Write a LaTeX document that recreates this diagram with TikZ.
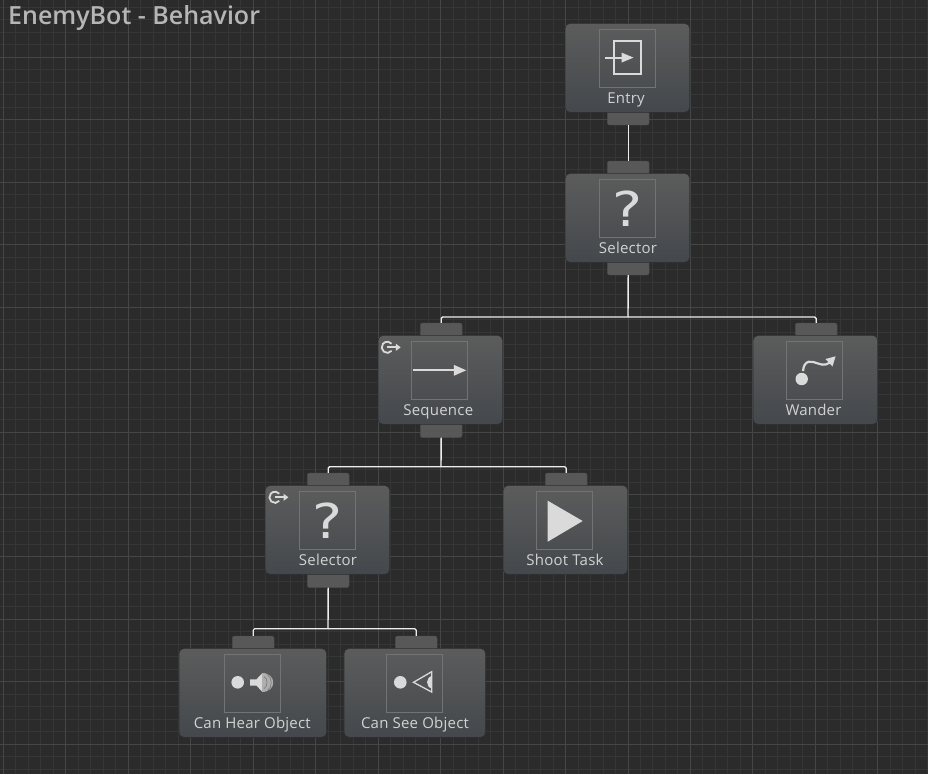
\documentclass[tikz,border=0pt]{standalone}
\usepackage{fontspec}
\setmainfont{Open Sans}[LetterSpace=1.5]
\newfontfamily\titlefont{Open Sans}[UprightFont=* Semibold,BoldFont=* Bold]
\newfontfamily\glyphfont{DejaVu Sans}
\usetikzlibrary{calc}
\definecolor{canvasbg}{HTML}{2B2B2B}
\definecolor{gridminor}{HTML}{363636}
\definecolor{gridmajor}{HTML}{464646}
\definecolor{bodytop}{HTML}{5C5C5C}
\definecolor{bodybot}{HTML}{44484C}
\definecolor{porttone}{HTML}{585858}
\definecolor{inkc}{HTML}{DADADA}
\definecolor{labelc}{HTML}{D2D2D2}
\definecolor{titlec}{HTML}{B6B6B6}
\tikzset{
  x=1pt,y=-1pt,
  bodybox/.style={rectangle,inner sep=0pt,minimum height=89pt,rounded corners=5pt,
    top color=bodytop,bottom color=bodybot,draw=black!35!bodybot,line width=.6pt},
  portbox/.style={rectangle,inner sep=0pt,minimum width=41.7pt,minimum height=14pt,rounded corners=2pt,
    fill=porttone,draw=black!15!porttone,line width=.4pt},
  iconbox/.style={rectangle,inner sep=0pt,minimum width=56.4pt,minimum height=57.4pt,draw=white!14!bodytop,line width=1pt},
  blabel/.style={inner sep=0pt,anchor=base,text=labelc,font=\fontsize{15}{17}\selectfont},
  wire/.style={draw=white!86!gray,line width=1.4pt,rounded corners=1.5pt},
  thinwire/.style={draw=white!86!gray,line width=1.1pt,rounded corners=1.5pt},
  ink/.style={draw=inkc,line width=2.2pt},
}
% name, body centre x, body top y, body width, label, icon-box centre x, label centre x
\newcommand{\bnode}[7]{%
  \node[bodybox,minimum width=#4pt] (#1) at (#2,#3+44.5) {};
  \node[iconbox] (#1icon) at (#6,#3+34.9) {};
  \node[blabel] (#1label) at (#7,#3+79.8) {#5};
}
\newcommand{\loopicon}[2]{%
  \draw[draw=inkc,line width=1.8pt] (#1+4.3,#2+3.6) arc[start angle=40,end angle=320,radius=5.6];
  \draw[draw=inkc,line width=1.8pt] (#1,#2) -- (#1+9,#2);
  \fill[inkc] (#1+13.4,#2) -- (#1+8.5,#2-3.6) -- (#1+8.5,#2+3.6) -- cycle;
}
\begin{document}
\begin{tikzpicture}
\node[inner sep=0pt,outer sep=0pt,fill=canvasbg,minimum width=928pt,minimum height=774pt,anchor=north west] (canvas) at (0,0) {};
\useasboundingbox (canvas.north west) rectangle (canvas.south east);
\begin{scope}
\clip (0,0) rectangle (928,774);
\foreach \i in {0,...,75}{
  \draw[gridminor,line width=1pt] ({3.5+12.49*\i},0) -- ({3.5+12.49*\i},774);
  \draw[gridminor,line width=1pt] (0,{7.4+12.49*\i}) -- (928,{7.4+12.49*\i});
}
\foreach \i in {0,...,15}{
  \draw[gridmajor,line width=1pt] ({3.5+62.45*\i},0) -- ({3.5+62.45*\i},774);
  \draw[gridmajor,line width=1pt] (0,{-5.1+62.45*\i}) -- (928,{-5.1+62.45*\i});
}
\end{scope}

\node[anchor=base west,inner sep=0pt,text=titlec,font=\titlefont\fontsize{25}{28}\selectfont] (title) at (8,24.6) {EnemyBot - Behavior};

% ports
\node[portbox] (entrybot) at (628.2,118) {};
\node[portbox] (sel1top) at (628.2,168) {};
\node[portbox] (sel1bot) at (628.2,268) {};
\node[portbox] (seqtop) at (441.2,330) {};
\node[portbox] (seqbot) at (441.2,430.5) {};
\node[portbox] (wantop) at (816.2,330) {};
\node[portbox] (sel2top) at (328.2,480) {};
\node[portbox] (sel2bot) at (328.2,580.5) {};
\node[portbox] (shoottop) at (566.2,480) {};
\node[portbox] (heartop) at (253.2,643) {};
\node[portbox] (seetop) at (416.2,643) {};

% bodies
\bnode{entry}{627.4}{23.4}{124.7}{Entry}{627.5}{626}
\bnode{sel1}{627.4}{173.4}{124.7}{Selector}{627.5}{628}
\bnode{seq}{440.4}{335.4}{124.7}{Sequence}{439.5}{438.3}
\bnode{wander}{815.4}{335.4}{124.7}{Wander}{814.5}{813.5}
\bnode{sel2}{327.4}{485.4}{124.7}{Selector}{327.5}{328}
\bnode{shoot}{565.4}{485.4}{124.7}{Shoot Task}{564.4}{565}
\bnode{hear}{252.8}{648.4}{147.7}{Can Hear Object}{252.5}{252.3}
\bnode{see}{414.8}{648.4}{141.7}{Can See Object}{414.5}{415}

% connectors
\coordinate (busa) at (628,317);
\coordinate (busb) at (441,466.7);
\coordinate (busc) at (328,628.7);
\draw[wire] (entrybot.south) -- (sel1top.north);
\draw[wire] (sel1bot.south) -- (busa);
\draw[wire] (busa) -| (seqtop.north);
\draw[wire] (busa) -| (wantop.north);
\draw[wire] (seqbot.south) -- (busb);
\draw[wire] (busb) -| (sel2top.north);
\draw[wire] (busb) -| (shoottop.north);
\draw[wire] (sel2bot.south) -- (busc);
\draw[thinwire] (busc) -| (heartop.north);
\draw[thinwire] (busc) -| (seetop.north);

% entry icon
\draw[ink] (614.2,41) rectangle (641,74);
\draw[ink] (605,57.6) -- (624,57.6);
\fill[inkc] (633.5,57.6) -- (621.5,52.6) -- (621.5,62.6) -- cycle;

% question marks
\node[anchor=base,inner sep=0pt,text=inkc,font=\glyphfont\fontsize{48}{52}\selectfont] (q1) at (627.5,226) {\scalebox{1.18}[1]{?}};
\node[anchor=base,inner sep=0pt,text=inkc,font=\glyphfont\fontsize{48}{52}\selectfont] (q2) at (327.7,538) {\scalebox{1.18}[1]{?}};

% sequence icon
\draw[ink] (413,370.3) -- (456,370.3);
\fill[inkc] (466.2,370.3) -- (453.8,364.8) -- (453.8,375.8) -- cycle;

% loop icons
\loopicon{387.3}{347.3}
\loopicon{275}{497.3}

% wander icon
\fill[inkc] (801.7,379) circle[radius=6.2];
\draw[ink] (803,371) .. controls (804,359) and (812,361) .. (818,363.5) .. controls (824,366) and (829,364.5) .. (832,360);
\fill[inkc] (835.6,356.3) -- (825.5,359) -- (832.5,366.5) -- cycle;

% shoot icon
\fill[inkc] (547.7,500.7) -- (582.7,521) -- (547.7,541.7) -- cycle;

% hear icon
\fill[inkc] (237.7,682.3) circle[radius=6.3];
\fill[inkc] (250,679.3) -- (256.5,679.3) -- (262,673.5) -- (262,691.5) -- (256.5,685.5) -- (250,685.5) -- cycle;
\fill[black!20!inkc] (262,672.8) .. controls (277,672.8) and (277,692.2) .. (262,692.2) -- cycle;
\draw[gray,line width=.7pt] (264,676.5) .. controls (268,678) and (268,687) .. (264,688.5);
\draw[gray,line width=.7pt] (267.5,674.7) .. controls (272.5,677) and (272.5,688) .. (267.5,690.3);

% see icon
\fill[inkc] (400.3,682.3) circle[radius=6.3];
\draw[draw=inkc,line width=1.3pt,line join=miter] (431.7,671.7) -- (413.5,682.3) -- (431.7,692) -- cycle;
\fill[inkc] (431.7,675.8) .. controls (425.5,678.5) and (425.5,686) .. (431.7,688.8) -- cycle;
\end{tikzpicture}
\end{document}
